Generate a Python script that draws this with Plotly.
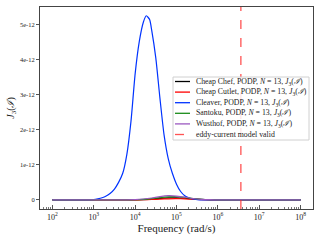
import plotly.graph_objects as go

# ---- data ----
# log10 of angular frequency (rad/s)
blue_log_freq = [2.0, 2.5, 3.0, 3.1, 3.2, 3.3, 3.4, 3.5, 3.6, 3.7, 3.8, 3.9, 4.0, 4.1, 4.2,
                 4.27, 4.35, 4.4, 4.5, 4.6, 4.7, 4.8, 4.9, 5.0, 5.1, 5.2, 5.3, 5.4, 5.5,
                 5.7, 6.0, 7.0, 8.0]
cleaver_J3 = [0.0, 0.002, 0.01, 0.03, 0.06, 0.11, 0.19, 0.31, 0.50, 0.76, 1.30, 2.25, 3.60,
              4.52, 5.08, 5.26, 5.15, 4.85, 4.05, 2.90, 1.85, 1.18, 0.76, 0.45, 0.24, 0.12,
              0.06, 0.025, 0.01, 0.003, 0.0, 0.0, 0.0]  # x 1e-12

small_log_freq = [2.0, 3.0, 3.8, 4.0, 4.2, 4.4, 4.6, 4.8, 5.0, 5.2, 5.4, 5.6, 5.8, 6.0, 7.0, 8.0]
cheap_chef_J3 = [0, 0, 0.001, 0.003, 0.010, 0.022, 0.042, 0.058, 0.060, 0.048, 0.028, 0.013, 0.005, 0.002, 0, 0]
cheap_cutlet_J3 = [0, 0, 0, 0.002, 0.005, 0.012, 0.022, 0.032, 0.035, 0.030, 0.018, 0.008, 0.003, 0.001, 0, 0]
santoku_J3 = [0, 0, 0.001, 0.005, 0.015, 0.035, 0.065, 0.085, 0.090, 0.070, 0.040, 0.018, 0.007, 0.002, 0, 0]
wusthof_J3 = [0, 0, 0.002, 0.008, 0.025, 0.055, 0.095, 0.120, 0.110, 0.075, 0.040, 0.017, 0.006, 0.002, 0, 0]

eddy_current_limit = 3.6e6  # rad/s

series_names = ["Cheap Chef", "Cheap Cutlet", "Cleaver", "Santoku", "Wusthof"]
series_colors = ["#000000", "#ff0000", "#0033ff", "#1a8c1a", "#9b59c0"]
eddy_label = "eddy-current model valid"
eddy_color = "rgba(255,40,40,0.8)"

y_range = [-0.26e-12, 5.51e-12]
y_ticks = [0, 1e-12, 2e-12, 3e-12, 4e-12, 5e-12]
y_ticktext = ["0", "1e-12", "2e-12", "3e-12", "4e-12", "5e-12"]
x_ticks_exp = [2, 3, 4, 5, 6, 7, 8]

FONT = "Liberation Serif"
W, H = 320, 240
ML, MR, MT, MB = 40, 7, 7, 31
PW, PH = W - ML - MR, H - MT - MB


def px_x(x):
    return (x - ML) / PW


def px_y(y):
    return (H - MB - y) / PH


fig = go.Figure()

series = [
    (small_log_freq, cheap_chef_J3),
    (small_log_freq, cheap_cutlet_J3),
    (blue_log_freq, cleaver_J3),
    (small_log_freq, santoku_J3),
    (small_log_freq, wusthof_J3),
]
labels = []
for (lf, vals), name, col in zip(series, series_names, series_colors):
    label = f"{name}, PODP, <i>N</i> = 13, <i>J</i><sub>3</sub>(<i>ℐ</i>)"
    labels.append((label, col, "solid"))
    fig.add_trace(go.Scatter(
        x=[10 ** e for e in lf], y=[v * 1e-12 for v in vals], mode="lines",
        line=dict(color=col, width=1.2, shape="spline", smoothing=0.6),
        name=label,
    ))

fig.add_trace(go.Scatter(
    x=[eddy_current_limit, eddy_current_limit], y=y_range, mode="lines",
    line=dict(color=eddy_color, width=1.3, dash="dash"),
    name=eddy_label,
))
labels.append((eddy_label, eddy_color, "dash"))

# ---- hand-made legend (compact, like the reference) ----
shapes = [dict(type="rect", xref="paper", yref="paper",
               x0=px_x(173), x1=px_x(309), y0=px_y(140), y1=px_y(77),
               line=dict(color="#d0d0d0", width=1), fillcolor="rgba(255,255,255,0.85)",
               layer="above")]
annotations = []
for i, (label, col, dash) in enumerate(labels):
    yc = 81.5 + i * 10.6
    shapes.append(dict(type="line", xref="paper", yref="paper",
                       x0=px_x(175), x1=px_x(190), y0=px_y(yc), y1=px_y(yc),
                       line=dict(color=col, width=1.3, dash=dash), layer="above"))
    annotations.append(dict(xref="paper", yref="paper", x=px_x(194), y=px_y(yc),
                            xanchor="left", yanchor="middle", showarrow=False,
                            text=label, font=dict(family=FONT, size=7.8, color="#222")))

minor_vals = [m * 10 ** k for k in range(1, 9) for m in range(2, 10)]

fig.update_layout(
    width=W, height=H,
    margin=dict(l=ML, r=MR, t=MT, b=MB),
    paper_bgcolor="white", plot_bgcolor="white",
    font=dict(family=FONT, size=7, color="#222"),
    showlegend=False,
    shapes=shapes, annotations=annotations,
    xaxis=dict(
        type="log", range=[1.7, 8.3], automargin=False,
        tickvals=[10 ** e for e in x_ticks_exp],
        ticktext=[f"10<sup>{e}</sup>" for e in x_ticks_exp],
        ticks="inside", ticklen=4, tickcolor="#555", tickwidth=0.8,
        minor=dict(tickvals=minor_vals, ticks="inside", ticklen=2, tickcolor="#777", tickwidth=0.6),
        showline=True, linecolor="#444", linewidth=1, mirror=True,
        showgrid=False, zeroline=False,
        tickfont=dict(family=FONT, size=8),
        title=dict(text="Frequency (rad/s)", font=dict(family=FONT, size=11), standoff=1),
    ),
    yaxis=dict(
        range=y_range, tickvals=y_ticks, ticktext=y_ticktext, automargin=False,
        ticks="outside", ticklen=3, tickcolor="#555", tickwidth=0.8,
        showline=True, linecolor="#444", linewidth=1, mirror=True,
        showgrid=False, zeroline=False,
        tickfont=dict(family=FONT, size=6.5),
        title=dict(text="<i>J</i><sub>3</sub>(<i>ℐ</i>)", font=dict(family=FONT, size=10), standoff=3),
    ),
)

fig.write_html("out.html", config={"displayModeBar": False})

# remove the browser's default page margin so the 320x240 figure fills the window
with open("out.html", "r", encoding="utf-8") as f:
    html = f.read()
html = html.replace("<head>", "<head><style>html,body{margin:0;padding:0;overflow:hidden;}</style>", 1)
with open("out.html", "w", encoding="utf-8") as f:
    f.write(html)
